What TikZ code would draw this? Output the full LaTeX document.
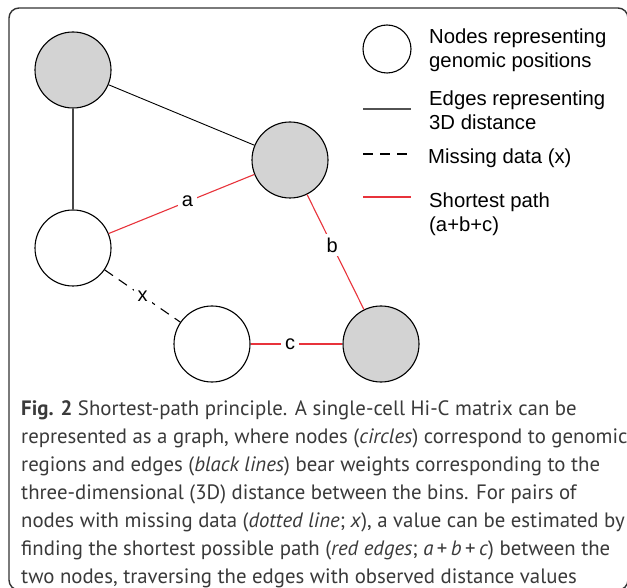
\documentclass[tikz,border=0pt]{standalone}
\usepackage{fontspec}
\setmainfont{PT Sans}
\newfontfamily\legfont{Liberation Sans}
\definecolor{nodegray}{HTML}{D3D3D3}
\definecolor{pathred}{HTML}{E8333B}
\definecolor{edgeblack}{HTML}{333333}
\definecolor{framegray}{HTML}{333333}
\definecolor{captext}{HTML}{3A3A3A}
\begin{document}
\begin{tikzpicture}[x=1pt,y=-1pt,
  gnode/.style={circle,draw=black,line width=1.1pt,minimum size=76pt,inner sep=0pt},
  gfill/.style={gnode,fill=nodegray},
  wfill/.style={gnode,fill=white},
  bedge/.style={draw=edgeblack,line width=1.1pt},
  redge/.style={draw=pathred,line width=1.1pt},
  dedge/.style={draw=black,line width=1.1pt,dash pattern=on 10pt off 7pt},
  elabel/.style={fill=white,inner sep=4pt,font=\legfont\fontsize{20}{24}\selectfont},
  legtext/.style={anchor=base west,inner sep=0pt,font=\legfont\fontsize{20.3}{24}\selectfont},
  captxt/.style={anchor=base west,inner sep=0pt,text=captext,font=\fontsize{20.8}{24}\selectfont}]
\useasboundingbox (0,0) rectangle (627,588);
\fill[white] (0,0) rectangle (627,588);
% frame
\draw[framegray,line width=1.4pt,rounded corners=10pt] (9,8) rectangle (628,590);
% graph nodes
\node[gfill] (tl) at (73,70) {};
\node[gfill] (rm) at (290,160) {};
\node[wfill] (lm) at (73,248) {};
\node[wfill] (bm) at (212,344) {};
\node[gfill] (br) at (381,344) {};
% edges
\draw[draw=black,line width=0.9pt] (tl) -- (rm);
\draw[draw=edgeblack!90,line width=1.4pt] (tl) -- (lm);
\draw[redge] (lm) -- node[elabel,pos=0.54] (la) {a} (rm);
\draw[redge] (rm) -- node[elabel,pos=0.44] (lb) {b} (br);
\draw[redge] (bm) -- node[elabel,pos=0.43] (lc) {c} (br);
\draw[dedge] (lm) -- node[elabel,pos=0.5] (lx) {x} (bm);
% legend
\node[wfill,minimum size=48pt,line width=1.1pt] (legnode) at (387,49) {};
\coordinate (lb1) at (363,109); \coordinate (lb2) at (411,109);
\coordinate (ld1) at (363,154); \coordinate (ld2) at (411,154);
\coordinate (lr1) at (363,197); \coordinate (lr2) at (411,197);
\draw[draw=edgeblack!85,line width=1.6pt] (lb1) -- (lb2);
\draw[dedge] (ld1) -- (ld2);
\draw[redge] (lr1) -- (lr2);
\node[legtext] (t1) at (429,44) {Nodes representing};
\node[legtext] (t2) at (429,68) {genomic positions};
\node[legtext] (t3) at (429,106) {Edges representing};
\node[legtext] (t4) at (429,130) {3D distance};
\node[legtext] (t5) at (428,164) {Missing data (x)};
\node[legtext] (t6) at (429,208) {Shortest path};
\node[legtext] (t7) at (429,232) {(a+b+c)};
% caption
\node[captxt] (c1) at (21,415) {\textbf{Fig. 2} Shortest-path principle. A single-cell Hi-C matrix can be};
\node[captxt] (c2) at (21,443) {represented as a graph, where nodes (\textit{circles}) correspond to genomic};
\node[captxt] (c3) at (21,471) {regions and edges (\textit{black lines}) bear weights corresponding to the};
\node[captxt] (c4) at (21,499) {three-dimensional (3D) distance between the bins. For pairs of};
\node[captxt] (c5) at (21,527) {nodes with missing data (\textit{dotted line}; \textit{x}), a value can be estimated by};
\node[captxt] (c6) at (21,555) {finding the shortest possible path (\textit{red edges}; \textit{a}\,+\,\textit{b}\,+\,\textit{c}) between the};
\node[captxt] (c7) at (21,583) {two nodes, traversing the edges with observed distance values};
\end{tikzpicture}
\end{document}
